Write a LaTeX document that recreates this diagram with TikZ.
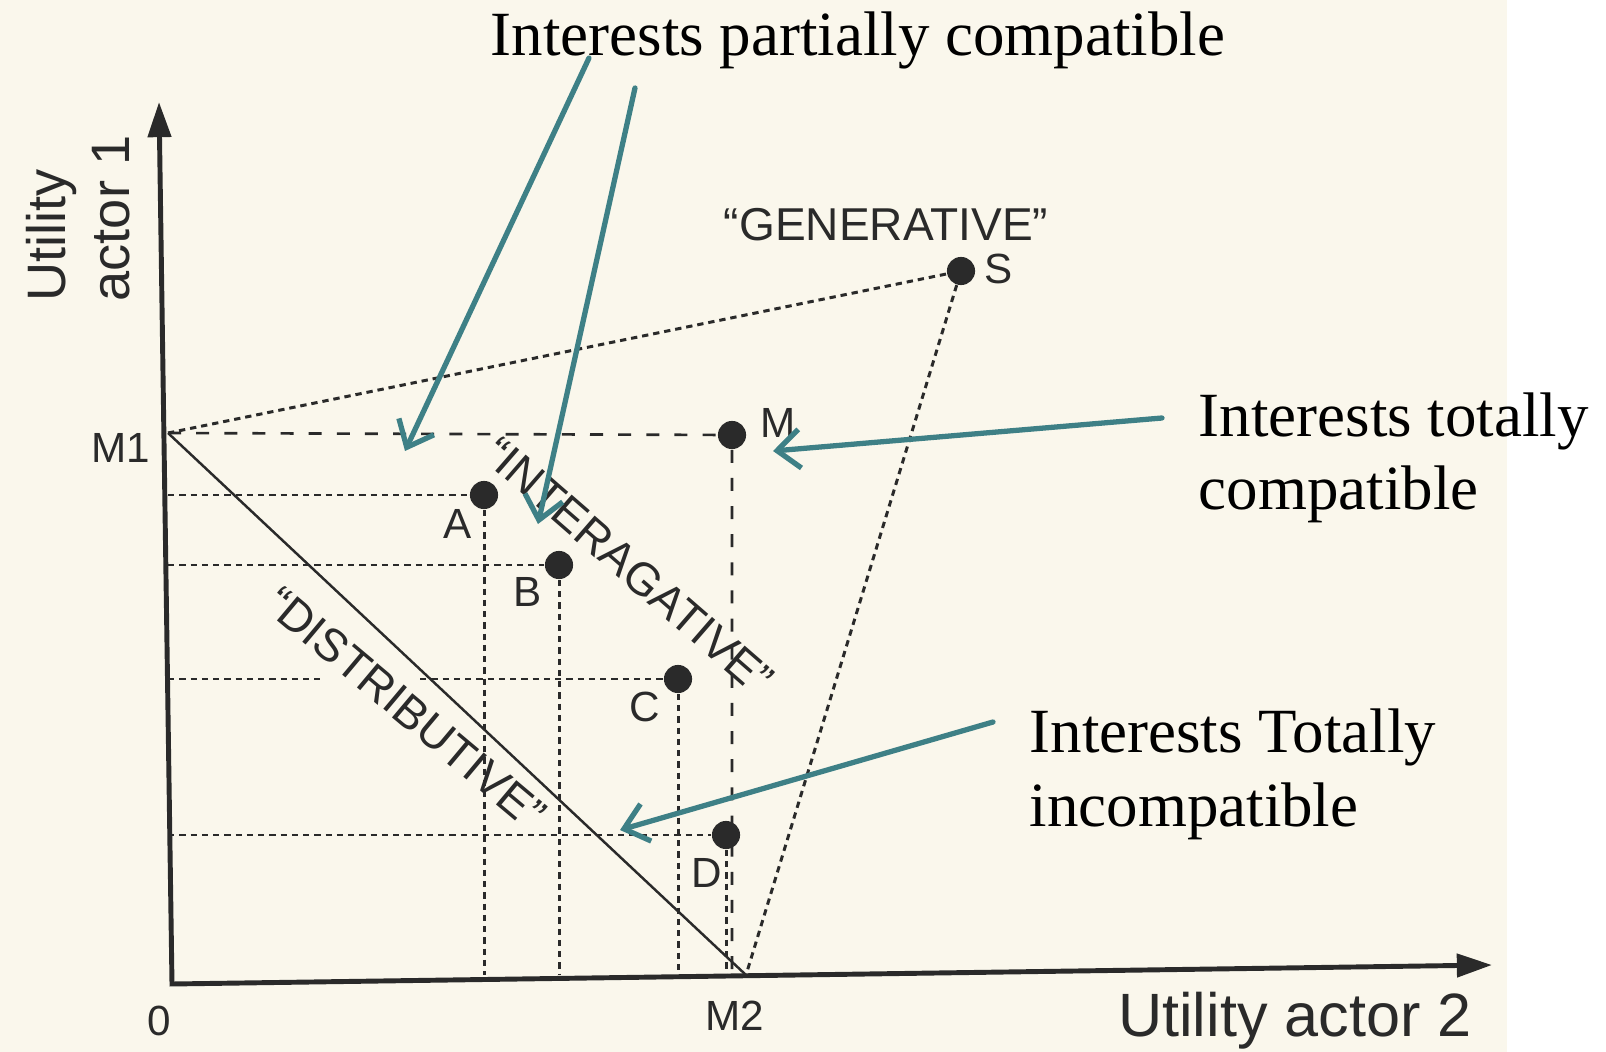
\documentclass[tikz,border=0pt]{standalone}
\usepackage{fontspec}
\setmainfont{Liberation Serif}
\setsansfont{Liberation Sans}
\usepackage{tikz}
\usetikzlibrary{positioning,arrows.meta,calc}
\definecolor{paper}{HTML}{FAF7EC}
\definecolor{ink}{HTML}{2A2A2A}
\definecolor{note}{HTML}{3E8086}
\tikzset{
  spot/.style={circle,fill=ink,minimum size=8pt,inner sep=0pt},
  plabel/.style={font=\sffamily\fontsize{12}{14}\selectfont,text=ink,inner sep=0pt},
  zone/.style={font=\sffamily\fontsize{13.1}{15}\selectfont,text=ink,inner sep=0pt},
  axis/.style={line width=1.4pt,draw=ink,{Triangle[length=10pt,width=6.5pt]}-{Triangle[length=10pt,width=6.5pt]}},
  guide/.style={draw=ink,line width=0.85pt,dash pattern=on 1.8pt off 1.4pt},
  guidewide/.style={draw=ink,line width=0.75pt,dash pattern=on 3.7pt off 4.3pt},
  callout/.style={draw=note,line width=1.5pt,line cap=round,-{Straight Barb[length=6.5pt,width=11pt,line width=1.5pt]}},
  remark/.style={font=\fontsize{17.9}{21}\selectfont,align=left,inner sep=0pt},
}

\begin{document}
\begin{tikzpicture}[x=0.01cm,y=-0.01cm]
  \fill[white] (0,0) rectangle (1606,1052);
  \fill[paper] (0,0) rectangle (1507,1052);
  \useasboundingbox (0,0) rectangle (1606,1052);
  % axes
  \coordinate (O) at (172,984); \coordinate (ytop) at (159,102); \coordinate (xend) at (1492,965);
  \draw[axis] (ytop) -- (O) -- (xend);
  \coordinate (M1) at (168,433); \coordinate (M2) at (746,975);
  % outcomes
  \node[spot] (M) at (732,435) {}; \node[spot] (S) at (961,271) {};
  \node[spot] (A) at (484,495) {}; \node[spot] (B) at (559,565) {};
  \node[spot] (C) at (678,679) {}; \node[spot] (D) at (726,835) {};
  % guides
  \draw[guidewide] (M1) -- (M) -- (M |- M2);
  \draw[guide] (M1) -- (S) -- (M2);
  \draw[guide] (M1 |- A) -- (A) -- (A |- M2);
  \draw[guide] (M1 |- B) -- (B) -- (B |- M2);
  \coordinate (Cgap1) at (320,679); \coordinate (Cgap2) at (420,679);
  \draw[guide] (M1 |- C) -- (Cgap1); \draw[guide] (Cgap2) -- (C) -- (C |- M2);
  \draw[guide] (M1 |- D) -- (D) -- (D |- M2);
  \draw[ink,line width=0.7pt] (M1) -- (M2);
  % labels
  \node[plabel] (Mlab) at (778,423) {M}; \node[plabel] (Slab) at (999,269) {S};
  \node[plabel] (Alab) at (458,524) {A}; \node[plabel] (Blab) at (528,592) {B};
  \node[plabel] (Clab) at (645,707) {C}; \node[plabel] (Dlab) at (707,873) {D};
  \node[plabel] (M1lab) at (121,448) {M1}; \node[plabel] (M2lab) at (735,1016) {M2};
  \node[plabel] (zero) at (159,1021) {0};
  \node[zone] (gen) at (886,225) {“GENERATIVE”};
  \node[zone,rotate=-41] (inter) at (629,566) {“INTERAGATIVE”};
  \node[zone,rotate=-40] (distr) at (406,708) {“DISTRIBUTIVE”};
  \node[font=\sffamily\fontsize{17.4}{20}\selectfont,text=ink,inner sep=0pt] (xlab) at (1295,1021) {Utility actor 2};
  \node[font=\sffamily\fontsize{15.4}{18.2}\selectfont,text=ink,inner sep=0pt,rotate=90,anchor=west,align=left] (ylab) at (78,302) {Utility\\actor 1};
  % remarks
  \node[remark,anchor=base] (part) at (858,56) {Interests partially compatible};
  \node[remark,anchor=base west] (total) at (1198,510) {Interests totally\\compatible};
  \node[remark,anchor=base west] (incomp) at (1029,826) {Interests Totally\\incompatible};
  \coordinate (a1s) at (589,58); \coordinate (a1e) at (405,451);
  \coordinate (a2s) at (635,88); \coordinate (a2e) at (538,524);
  \coordinate (a3s) at (1162,418); \coordinate (a3e) at (773,451);
  \coordinate (a4s) at (993,722); \coordinate (a4e) at (620,830);
  \draw[callout] (a1s) -- (a1e);
  \draw[callout] (a2s) -- (a2e);
  \draw[callout] (a3s) -- (a3e);
  \draw[callout] (a4s) -- (a4e);
\end{tikzpicture}
\end{document}
